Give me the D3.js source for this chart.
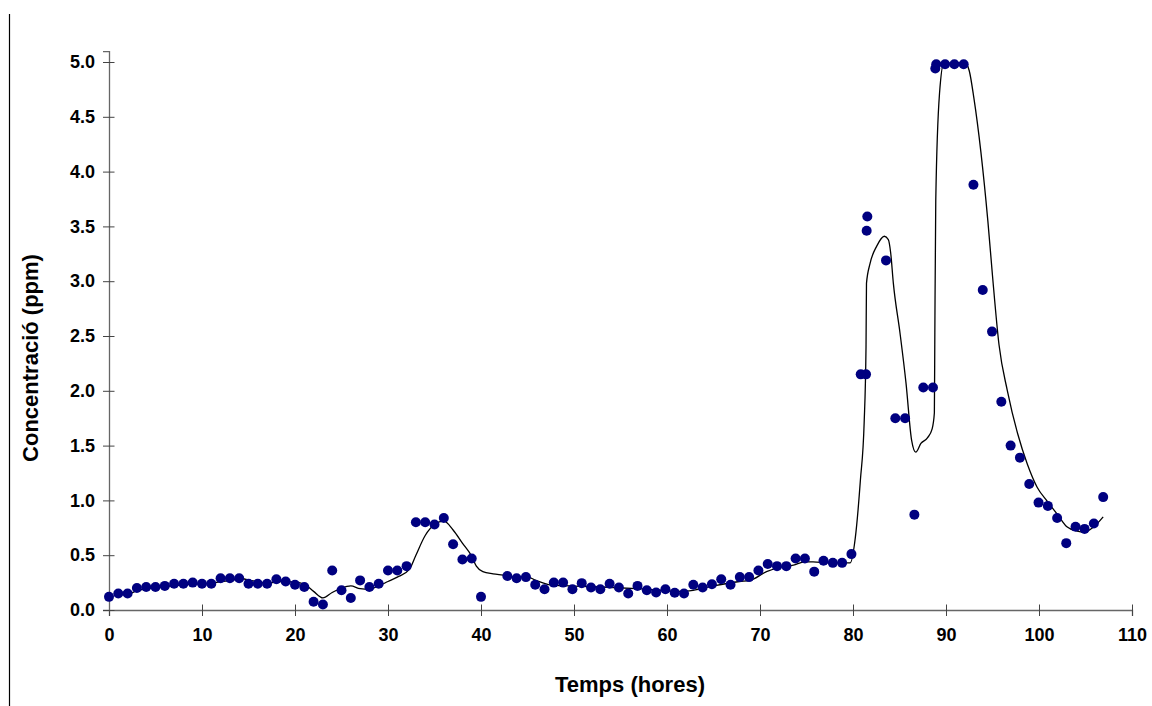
<!DOCTYPE html>
<html>
<head>
<meta charset="utf-8">
<script src="https://cdn.jsdelivr.net/npm/d3@7"></script>
<style>
    body { margin: 0; background: #fff; }
    svg { display: block; font-family: Arial, "Liberation Sans", sans-serif; }
</style>
</head>
<body>
<div class="chart"></div>
<script>
// measured points: time (hours) and concentration (ppm)
const hours = [
    0, 1, 2, 3, 4, 5, 6, 7, 8, 9, 10, 11, 12, 13, 14, 15, 16, 17, 18, 19, 20,
    21, 22, 23, 24, 25, 26, 27, 28, 29, 30, 31, 32, 33, 34, 35, 36, 37, 38, 39, 40,
    42.83, 43.83, 44.83, 45.83, 46.83, 47.83, 48.83, 49.83, 50.83, 51.83, 52.83,
    53.83, 54.83, 55.83, 56.83, 57.83, 58.83, 59.83, 60.83, 61.83, 62.83, 63.83,
    64.83, 65.83, 66.83, 67.83, 68.83, 69.83, 70.83, 71.83, 72.83, 73.83, 74.83,
    75.83, 76.83, 77.83, 78.83, 79.83,
    80.83, 81.4, 81.47, 81.54, 83.55, 84.55, 85.6, 86.6, 87.56, 88.6, 88.85, 88.95,
    89.9, 90.9, 91.9, 92.95, 93.95, 94.95, 95.95, 96.95, 97.95, 98.95, 99.95,
    100.95, 101.95, 102.93, 103.93, 104.9, 105.9, 106.9
];
const conc = [
    0.12, 0.15, 0.15, 0.20, 0.21, 0.21, 0.22, 0.24, 0.24, 0.25, 0.24, 0.24, 0.29, 0.29, 0.29, 0.24, 0.24, 0.24, 0.28, 0.26, 0.23,
    0.21, 0.075, 0.05, 0.36, 0.18, 0.11, 0.27, 0.21, 0.24, 0.36, 0.36, 0.40, 0.80, 0.80, 0.78, 0.84, 0.60, 0.46, 0.47, 0.12,
    0.31, 0.29, 0.30, 0.23, 0.19, 0.25, 0.25, 0.19, 0.245, 0.205, 0.19,
    0.24, 0.205, 0.15, 0.22, 0.18, 0.16, 0.19, 0.157, 0.15, 0.23, 0.205,
    0.235, 0.28, 0.23, 0.30, 0.30, 0.36, 0.42, 0.40, 0.40, 0.47, 0.47,
    0.35, 0.45, 0.43, 0.43, 0.51,
    2.15, 2.15, 3.46, 3.59, 3.19, 1.75, 1.75, 0.87, 2.03, 2.03, 4.94, 4.98,
    4.98, 4.98, 4.98, 3.88, 2.92, 2.54, 1.90, 1.50, 1.39, 1.15, 0.98,
    0.95, 0.84, 0.61, 0.76, 0.74, 0.79, 1.03
];

// smoothed line
const fitHours = [
    2, 3, 5, 8, 11, 13, 14.2, 15.5, 17, 18.5, 20, 21, 22, 23, 24, 25, 26, 27, 28, 29,
    30, 31, 32.3, 33, 34, 35, 36, 37, 38, 39, 39.5, 40.2, 41.3, 42.7, 43.4, 43.8, 44.3,
    44.9, 45.9, 47.4, 49.5, 53, 57.8, 61.4, 62.8, 65, 67.8, 68.9, 70.7, 72.1, 73.6,
    74.8, 75.7, 77.5, 79.7, 80.25, 80.8, 81.2, 81.4, 81.45, 81.83, 82.55, 83.37, 83.8,
    84.05, 84.34, 85.05, 85.7, 86.3, 86.75, 87.3, 88.0, 88.5, 88.75, 88.8, 88.9, 89.3,
    89.8, 90.5, 91, 91.5, 92, 92.5, 93, 93.75, 94.5, 95, 95.7, 96.6, 97.7, 98.75, 99.8,
    100.9, 102, 103, 104.1, 104.8, 105.9, 106.9
];
const fitConc = [
    0.14, 0.175, 0.205, 0.23, 0.245, 0.27, 0.285, 0.265, 0.245, 0.26, 0.255, 0.235, 0.17, 0.11, 0.16, 0.20, 0.22, 0.195, 0.19, 0.22,
    0.26, 0.30, 0.37, 0.50, 0.68, 0.78, 0.81, 0.73, 0.61, 0.49, 0.40, 0.35, 0.33, 0.315, 0.30, 0.255, 0.30,
    0.305, 0.27, 0.23, 0.22, 0.21, 0.19, 0.17, 0.18, 0.22, 0.26, 0.27, 0.35, 0.39, 0.41,
    0.44, 0.44, 0.43, 0.43, 0.66, 1.19, 1.71, 2.4, 2.98, 3.16, 3.32, 3.41, 3.38,
    3.26, 2.98, 2.53, 2.07, 1.55, 1.44, 1.52, 1.57, 1.65, 1.8, 2.53, 3.74, 4.71,
    5.0, 4.99, 5.0, 4.99, 5.0, 4.92, 4.67, 4.18, 3.55, 3.05, 2.42, 2.0, 1.61, 1.33, 1.12,
    0.99, 0.87, 0.76, 0.72, 0.71, 0.76, 0.85
];

const xTicks = d3.range(0, 111, 10);
const xMinor = d3.range(0, 111, 2).filter(d => d % 10 !== 0);
const yTicks = d3.range(0, 51, 5).map(d => d / 10);
const yMinor = d3.range(0, 52, 1).filter(d => d % 5 !== 0).map(d => d / 10);

const svgW = 1152;
const svgH = 706;

const x = d3.scaleLinear().domain([0, 110]).range([109, 1132]);
const y = d3.scaleLinear().domain([0, 5.1]).range([610, 610 - 5.1 * 109.6]);

const svg = d3.select("div.chart")
    .append("svg")
        .attr("width", svgW)
        .attr("height", svgH);

// thin frame line at the far left
svg.append("line")
    .attr("x1", 9.5).attr("x2", 9.5)
    .attr("y1", 14).attr("y2", svgH)
    .attr("stroke", "#000")
    .attr("stroke-width", 1.2);

const axisColor = "#666";

// x axis
const gx = svg.append("g")
    .attr("transform", `translate(0,${y(0)})`);
gx.call(d3.axisBottom(x).tickValues(xMinor).tickSize(4.5).tickFormat(""));
gx.call(d3.axisBottom(x).tickValues(xTicks).tickSize(6).tickPadding(12).tickFormat(d3.format("d")));
gx.selectAll(".domain").attr("stroke", axisColor).attr("stroke-width", 1.3);
gx.selectAll(".tick line").attr("stroke", "#444");
gx.selectAll(".tick").filter(d => d % 10 === 0).select("line").attr("y1", -5.5);
gx.selectAll(".tick text")
    .attr("fill", "#000")
    .style("font-size", "18px")
    .style("font-weight", "bold");

// y axis
const gy = svg.append("g")
    .attr("transform", `translate(${x(0)},0)`);
gy.call(d3.axisLeft(y).tickValues(yMinor).tickSize(4.5).tickFormat(""));
gy.call(d3.axisLeft(y).tickValues(yTicks).tickSize(6).tickPadding(8).tickFormat(d3.format(".1f")));
gy.selectAll(".domain").attr("stroke", axisColor).attr("stroke-width", 1.3);
gy.selectAll(".tick line").attr("stroke", "#444");
gy.selectAll(".tick").filter(d => Math.round(d * 10) % 5 === 0).select("line").attr("x1", 5.5);
gy.selectAll(".tick text")
    .attr("fill", "#000")
    .style("font-size", "18px")
    .style("font-weight", "bold");

// axis titles
svg.append("text")
    .attr("x", 630)
    .attr("y", 692)
    .attr("text-anchor", "middle")
    .style("font-size", "22px")
    .style("font-weight", "bold")
    .text("Temps (hores)");

svg.append("text")
    .attr("transform", `translate(38,358) rotate(-90)`)
    .attr("text-anchor", "middle")
    .style("font-size", "22px")
    .style("font-weight", "bold")
    .text("Concentració (ppm)");

// smoothed curve
const fit = fitHours.map((h, i) => [h, fitConc[i]]);
svg.append("path")
    .datum(fit)
    .attr("fill", "none")
    .attr("stroke", "#000")
    .attr("stroke-width", 1.3)
    .attr("d", d3.line()
        .x(d => x(d[0]))
        .y(d => y(d[1]))
        .curve(d3.curveMonotoneX));

// measured points
svg.append("g")
    .selectAll("circle")
    .data(hours)
    .join("circle")
    .attr("cx", d => x(d))
    .attr("cy", (d, i) => y(conc[i]))
    .attr("r", 5)
    .attr("fill", "#000080");
</script>
</body>
</html>
